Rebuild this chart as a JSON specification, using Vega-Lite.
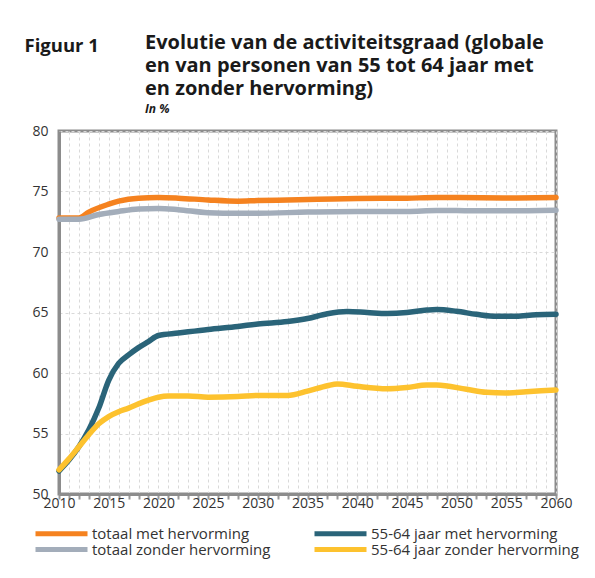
{
  "$schema": "https://vega.github.io/schema/vega-lite/v6.json",
  "width": 497,
  "height": 363,
  "autosize": {"type": "none"},
  "padding": {"left": 59, "top": 131, "right": 39, "bottom": 84},
  "background": "white",
  "title": {
    "text": ["Evolutie van de activiteitsgraad (globale", "en van personen van 55 tot 64 jaar met", "en zonder hervorming)"],
    "subtitle": "In %",
    "anchor": "start",
    "dx": 121,
    "offset": -79,
    "font": "Open Sans",
    "fontSize": 20,
    "fontWeight": "bold",
    "color": "#1a1a1a",
    "lineHeight": 23,
    "subtitleFont": "Open Sans",
    "subtitleFontSize": 12,
    "subtitleFontWeight": "bold",
    "subtitleFontStyle": "italic",
    "subtitleColor": "#1a1a1a",
    "subtitlePadding": 5
  },
  "data": {
    "values": [
      {"jaar": 2010, "reeks": "totaal met hervorming", "waarde": 72.8},
      {"jaar": 2012, "reeks": "totaal met hervorming", "waarde": 72.8},
      {"jaar": 2013, "reeks": "totaal met hervorming", "waarde": 73.3},
      {"jaar": 2015, "reeks": "totaal met hervorming", "waarde": 73.95},
      {"jaar": 2016, "reeks": "totaal met hervorming", "waarde": 74.2},
      {"jaar": 2018, "reeks": "totaal met hervorming", "waarde": 74.45},
      {"jaar": 2020, "reeks": "totaal met hervorming", "waarde": 74.5},
      {"jaar": 2022, "reeks": "totaal met hervorming", "waarde": 74.45},
      {"jaar": 2025, "reeks": "totaal met hervorming", "waarde": 74.3},
      {"jaar": 2028, "reeks": "totaal met hervorming", "waarde": 74.2},
      {"jaar": 2030, "reeks": "totaal met hervorming", "waarde": 74.25},
      {"jaar": 2033, "reeks": "totaal met hervorming", "waarde": 74.3},
      {"jaar": 2036, "reeks": "totaal met hervorming", "waarde": 74.35},
      {"jaar": 2040, "reeks": "totaal met hervorming", "waarde": 74.42},
      {"jaar": 2045, "reeks": "totaal met hervorming", "waarde": 74.45},
      {"jaar": 2048, "reeks": "totaal met hervorming", "waarde": 74.5},
      {"jaar": 2050, "reeks": "totaal met hervorming", "waarde": 74.5},
      {"jaar": 2055, "reeks": "totaal met hervorming", "waarde": 74.47},
      {"jaar": 2060, "reeks": "totaal met hervorming", "waarde": 74.5},

      {"jaar": 2010, "reeks": "totaal zonder hervorming", "waarde": 72.7},
      {"jaar": 2012, "reeks": "totaal zonder hervorming", "waarde": 72.7},
      {"jaar": 2014, "reeks": "totaal zonder hervorming", "waarde": 73.1},
      {"jaar": 2016, "reeks": "totaal zonder hervorming", "waarde": 73.35},
      {"jaar": 2018, "reeks": "totaal zonder hervorming", "waarde": 73.55},
      {"jaar": 2020, "reeks": "totaal zonder hervorming", "waarde": 73.6},
      {"jaar": 2022, "reeks": "totaal zonder hervorming", "waarde": 73.5},
      {"jaar": 2025, "reeks": "totaal zonder hervorming", "waarde": 73.25},
      {"jaar": 2028, "reeks": "totaal zonder hervorming", "waarde": 73.2},
      {"jaar": 2030, "reeks": "totaal zonder hervorming", "waarde": 73.2},
      {"jaar": 2035, "reeks": "totaal zonder hervorming", "waarde": 73.3},
      {"jaar": 2040, "reeks": "totaal zonder hervorming", "waarde": 73.35},
      {"jaar": 2045, "reeks": "totaal zonder hervorming", "waarde": 73.35},
      {"jaar": 2048, "reeks": "totaal zonder hervorming", "waarde": 73.42},
      {"jaar": 2050, "reeks": "totaal zonder hervorming", "waarde": 73.42},
      {"jaar": 2055, "reeks": "totaal zonder hervorming", "waarde": 73.4},
      {"jaar": 2060, "reeks": "totaal zonder hervorming", "waarde": 73.45},

      {"jaar": 2010, "reeks": "55-64 jaar met hervorming", "waarde": 51.9},
      {"jaar": 2011, "reeks": "55-64 jaar met hervorming", "waarde": 52.8},
      {"jaar": 2012, "reeks": "55-64 jaar met hervorming", "waarde": 53.9},
      {"jaar": 2013, "reeks": "55-64 jaar met hervorming", "waarde": 55.3},
      {"jaar": 2014, "reeks": "55-64 jaar met hervorming", "waarde": 57.1},
      {"jaar": 2015, "reeks": "55-64 jaar met hervorming", "waarde": 59.4},
      {"jaar": 2016, "reeks": "55-64 jaar met hervorming", "waarde": 60.8},
      {"jaar": 2017, "reeks": "55-64 jaar met hervorming", "waarde": 61.5},
      {"jaar": 2018, "reeks": "55-64 jaar met hervorming", "waarde": 62.1},
      {"jaar": 2019, "reeks": "55-64 jaar met hervorming", "waarde": 62.6},
      {"jaar": 2020, "reeks": "55-64 jaar met hervorming", "waarde": 63.1},
      {"jaar": 2022, "reeks": "55-64 jaar met hervorming", "waarde": 63.3},
      {"jaar": 2025, "reeks": "55-64 jaar met hervorming", "waarde": 63.6},
      {"jaar": 2028, "reeks": "55-64 jaar met hervorming", "waarde": 63.85},
      {"jaar": 2030, "reeks": "55-64 jaar met hervorming", "waarde": 64.05},
      {"jaar": 2033, "reeks": "55-64 jaar met hervorming", "waarde": 64.25},
      {"jaar": 2035, "reeks": "55-64 jaar met hervorming", "waarde": 64.5},
      {"jaar": 2037, "reeks": "55-64 jaar met hervorming", "waarde": 64.9},
      {"jaar": 2039, "reeks": "55-64 jaar met hervorming", "waarde": 65.08},
      {"jaar": 2041, "reeks": "55-64 jaar met hervorming", "waarde": 65.0},
      {"jaar": 2043, "reeks": "55-64 jaar met hervorming", "waarde": 64.92},
      {"jaar": 2045, "reeks": "55-64 jaar met hervorming", "waarde": 65.0},
      {"jaar": 2047, "reeks": "55-64 jaar met hervorming", "waarde": 65.2},
      {"jaar": 2048, "reeks": "55-64 jaar met hervorming", "waarde": 65.25},
      {"jaar": 2050, "reeks": "55-64 jaar met hervorming", "waarde": 65.1},
      {"jaar": 2052, "reeks": "55-64 jaar met hervorming", "waarde": 64.85},
      {"jaar": 2054, "reeks": "55-64 jaar met hervorming", "waarde": 64.68},
      {"jaar": 2056, "reeks": "55-64 jaar met hervorming", "waarde": 64.7},
      {"jaar": 2058, "reeks": "55-64 jaar met hervorming", "waarde": 64.82},
      {"jaar": 2060, "reeks": "55-64 jaar met hervorming", "waarde": 64.85},

      {"jaar": 2010, "reeks": "55-64 jaar zonder hervorming", "waarde": 52.0},
      {"jaar": 2011, "reeks": "55-64 jaar zonder hervorming", "waarde": 52.9},
      {"jaar": 2012, "reeks": "55-64 jaar zonder hervorming", "waarde": 53.9},
      {"jaar": 2013, "reeks": "55-64 jaar zonder hervorming", "waarde": 54.9},
      {"jaar": 2014, "reeks": "55-64 jaar zonder hervorming", "waarde": 55.8},
      {"jaar": 2015, "reeks": "55-64 jaar zonder hervorming", "waarde": 56.4},
      {"jaar": 2016, "reeks": "55-64 jaar zonder hervorming", "waarde": 56.8},
      {"jaar": 2017, "reeks": "55-64 jaar zonder hervorming", "waarde": 57.1},
      {"jaar": 2018, "reeks": "55-64 jaar zonder hervorming", "waarde": 57.45},
      {"jaar": 2019, "reeks": "55-64 jaar zonder hervorming", "waarde": 57.75},
      {"jaar": 2020, "reeks": "55-64 jaar zonder hervorming", "waarde": 58.0},
      {"jaar": 2021, "reeks": "55-64 jaar zonder hervorming", "waarde": 58.1},
      {"jaar": 2023, "reeks": "55-64 jaar zonder hervorming", "waarde": 58.1},
      {"jaar": 2025, "reeks": "55-64 jaar zonder hervorming", "waarde": 58.0},
      {"jaar": 2028, "reeks": "55-64 jaar zonder hervorming", "waarde": 58.05},
      {"jaar": 2030, "reeks": "55-64 jaar zonder hervorming", "waarde": 58.15},
      {"jaar": 2033, "reeks": "55-64 jaar zonder hervorming", "waarde": 58.15},
      {"jaar": 2035, "reeks": "55-64 jaar zonder hervorming", "waarde": 58.5},
      {"jaar": 2037, "reeks": "55-64 jaar zonder hervorming", "waarde": 58.95},
      {"jaar": 2038, "reeks": "55-64 jaar zonder hervorming", "waarde": 59.1},
      {"jaar": 2040, "reeks": "55-64 jaar zonder hervorming", "waarde": 58.9},
      {"jaar": 2043, "reeks": "55-64 jaar zonder hervorming", "waarde": 58.7},
      {"jaar": 2045, "reeks": "55-64 jaar zonder hervorming", "waarde": 58.8},
      {"jaar": 2047, "reeks": "55-64 jaar zonder hervorming", "waarde": 59.0},
      {"jaar": 2048, "reeks": "55-64 jaar zonder hervorming", "waarde": 59.0},
      {"jaar": 2051, "reeks": "55-64 jaar zonder hervorming", "waarde": 58.65},
      {"jaar": 2053, "reeks": "55-64 jaar zonder hervorming", "waarde": 58.4},
      {"jaar": 2055, "reeks": "55-64 jaar zonder hervorming", "waarde": 58.35},
      {"jaar": 2057, "reeks": "55-64 jaar zonder hervorming", "waarde": 58.45},
      {"jaar": 2060, "reeks": "55-64 jaar zonder hervorming", "waarde": 58.6}
    ]
  },
  "mark": {"type": "line", "interpolate": "monotone", "strokeWidth": 5.5, "strokeCap": "round"},
  "encoding": {
    "x": {
      "field": "jaar",
      "type": "quantitative",
      "scale": {"domain": [2010, 2060], "nice": false, "zero": false},
      "axis": {
        "title": null,
        "values": [2010,2011,2012,2013,2014,2015,2016,2017,2018,2019,2020,2021,2022,2023,2024,2025,2026,2027,2028,2029,2030,2031,2032,2033,2034,2035,2036,2037,2038,2039,2040,2041,2042,2043,2044,2045,2046,2047,2048,2049,2050,2051,2052,2053,2054,2055,2056,2057,2058,2059,2060],
        "format": "d",
        "labelExpr": "datum.value % 5 === 0 ? datum.label : ''",
        "tickSize": 5,
        "tickWidth": 2,
        "tickColor": "#999999",
        "labelPadding": -3,
        "labelFlush": false,
        "labelOverlap": false
      }
    },
    "y": {
      "field": "waarde",
      "type": "quantitative",
      "scale": {"domain": [50, 80], "nice": false, "zero": false},
      "axis": {
        "title": "Figuur 1",
        "titleAngle": 0,
        "titleAlign": "left",
        "titleBaseline": "alphabetic",
        "titleX": -35,
        "titleY": -80,
        "titleFont": "Open Sans",
        "titleFontSize": 18.5,
        "titleFontWeight": "bold",
        "titleColor": "#1a1a1a",
        "values": [50, 55, 60, 65, 70, 75, 80],
        "tickSize": 0,
        "labelPadding": 11
      }
    },
    "color": {
      "field": "reeks",
      "type": "nominal",
      "scale": {
        "domain": ["totaal met hervorming", "totaal zonder hervorming", "55-64 jaar met hervorming", "55-64 jaar zonder hervorming"],
        "range": ["#F5821F", "#A3ADBA", "#2A6479", "#FDC22E"]
      },
      "legend": {
        "title": null,
        "orient": "none",
        "legendX": -26,
        "legendY": 395,
        "columns": 2,
        "columnPadding": 41,
        "rowPadding": 0,
        "clipHeight": 15,
        "symbolType": "stroke",
        "symbolSize": 2704,
        "symbolStrokeWidth": 5,
        "labelOffset": 2,
        "labelLimit": 400,
        "labelFont": "Open Sans",
        "labelFontSize": 15,
        "labelColor": "#333333"
      }
    }
  },
  "config": {
    "view": {"stroke": "#8c8c8c", "strokeWidth": 3},
    "axis": {
      "domainColor": "#8c8c8c",
      "domainWidth": 3,
      "gridColor": "#d9d9d9",
      "gridDash": [3, 3],
      "gridWidth": 1,
      "labelFont": "Open Sans",
      "labelFontSize": 14,
      "labelColor": "#333333"
    }
  }
}
